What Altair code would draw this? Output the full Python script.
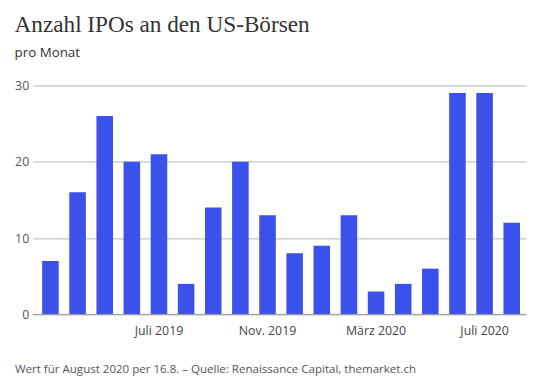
import altair as alt
import pandas as pd

months = ["März 2019", "April 2019", "Mai 2019", "Juni 2019", "Juli 2019", "Aug. 2019",
          "Sept. 2019", "Okt. 2019", "Nov. 2019", "Dez. 2019", "Jan. 2020", "Feb. 2020",
          "März 2020", "April 2020", "Mai 2020", "Juni 2020", "Juli 2020", "Aug. 2020"]
ipos = [7, 16, 26, 20, 21, 4, 14, 20, 13, 8, 9, 13, 3, 4, 6, 29, 29, 12]
tick_labels = ["Juli 2019", "Nov. 2019", "März 2020", "Juli 2020"]
y_ticks = [0, 10, 20, 30]

df = pd.DataFrame({"Monat": months, "IPOs": ipos})

W, H = 500, 232
SANS = "Open Sans"

bars = alt.Chart(df).mark_bar(color="#3a51ea").encode(
    x=alt.X("Monat:N", sort=months,
            scale=alt.Scale(paddingInner=0.39, paddingOuter=0.287, align=0.61),
            axis=alt.Axis(values=tick_labels, title=None, labelAngle=0, ticks=False,
                          domain=False, labelPadding=10, labelFontSize=12.5,
                          labelColor="#444", labelFont=SANS)),
    y=alt.Y("IPOs:Q", scale=alt.Scale(domain=[0, 30]),
            axis=alt.Axis(values=y_ticks, title=None, ticks=False, domain=False,
                          labelPadding=4, labelFontSize=12.5, labelColor="#555",
                          labelFont=SANS, gridColor="#b5b5b5", gridWidth=1)),
)

zero = alt.Chart(pd.DataFrame({"y": [0]})).mark_rule(color="#999999", strokeWidth=1).encode(
    y="y:Q")

footer = alt.Chart(pd.DataFrame({"t": ["Wert für August 2020 per 16.8. – Quelle: Renaissance Capital, themarket.ch"]})).mark_text(
    align="left", baseline="alphabetic", fontSize=11.7, font=SANS, color="#555"
).encode(text="t:N", x=alt.value(-18), y=alt.value(H + 59))

chart = alt.layer(bars, zero, footer).properties(
    width=W, height=H,
    padding={"left": 6, "top": 3, "right": 5, "bottom": 5},
    title=alt.TitleParams(
        text="Anzahl IPOs an den US-Börsen",
        subtitle="pro Monat",
        anchor="start",
        font="Liberation Serif", fontSize=23.5, fontWeight="normal", color="#333",
        subtitleFont=SANS, subtitleFontSize=13.5, subtitleColor="#333",
        subtitlePadding=10, offset=20,
    ),
).configure_view(stroke=None)

chart.save("out.html", embed_options={"renderer": "svg", "actions": False})
